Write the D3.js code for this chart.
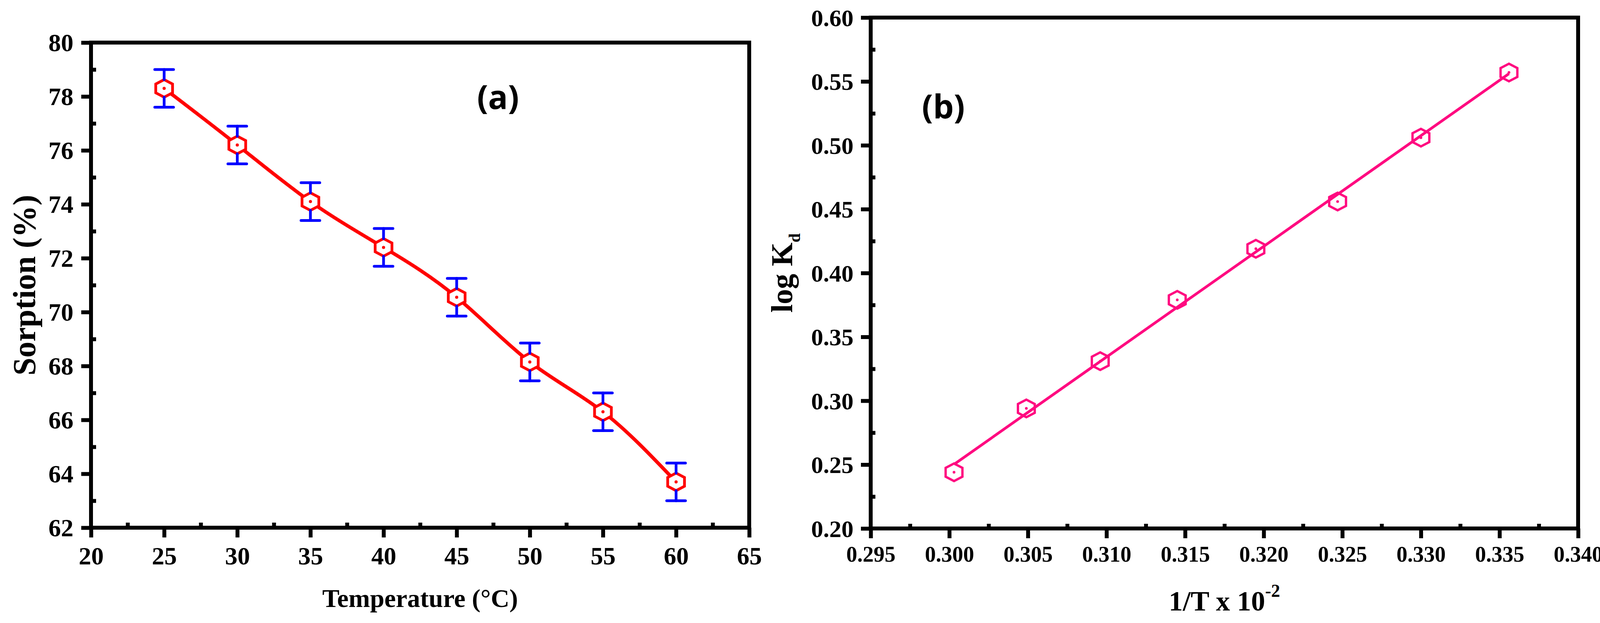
<!DOCTYPE html>
<html><head><meta charset="utf-8">
<script src="https://cdn.jsdelivr.net/npm/d3@7/dist/d3.min.js"></script>
<style>
body{margin:0;background:#fff}
svg{display:block;background:#fff}
text{font-family:"Liberation Serif","Times New Roman",serif;font-weight:bold;fill:#000}
</style>
</head><body>
<svg id="chart" width="4122" height="1595"></svg>
<script>
// ---------- data: panel (a) ----------
const temperature = [25, 30, 35, 40, 45, 50, 55, 60];
const sorption    = [78.3, 76.2, 74.1, 72.4, 70.55, 68.15, 66.3, 63.7];
const sorptionErr = [0.7, 0.7, 0.7, 0.7, 0.7, 0.7, 0.7, 0.7];
const tempTicks   = [20, 25, 30, 35, 40, 45, 50, 55, 60, 65];
const tempMinor   = [22.5, 27.5, 32.5, 37.5, 42.5, 47.5, 52.5, 57.5, 62.5];
const sorpTicks   = [62, 64, 66, 68, 70, 72, 74, 76, 78, 80];
const sorpMinor   = [63, 65, 67, 69, 71, 73, 75, 77, 79];

// ---------- data: panel (b) ----------
const invT  = [0.3003, 0.3049, 0.3096, 0.3145, 0.3195, 0.3247, 0.3300, 0.3356];
const logKd = [0.244, 0.294, 0.331, 0.379, 0.419, 0.456, 0.506, 0.557];
const invTTicks  = [0.295, 0.300, 0.305, 0.310, 0.315, 0.320, 0.325, 0.330, 0.335, 0.340];
const invTMinor  = [0.2975, 0.3025, 0.3075, 0.3125, 0.3175, 0.3225, 0.3275, 0.3325, 0.3375];
const logKdTicks = [0.20, 0.25, 0.30, 0.35, 0.40, 0.45, 0.50, 0.55, 0.60];
const logKdMinor = [0.225, 0.275, 0.325, 0.375, 0.425, 0.475, 0.525, 0.575];

const svg = d3.select('#chart');

// ---------- layout ----------
const A = {x0: 233, x1: 1918, y0: 1351, y1: 109};
const B = {x0: 2229, x1: 4040, y0: 1353, y1: 45};

const xA = d3.scaleLinear().domain([20, 65]).range([A.x0, A.x1]);
const yA = d3.scaleLinear().domain([62, 80]).range([A.y0, A.y1]);
const xB = d3.scaleLinear().domain([0.295, 0.340]).range([B.x0, B.x1]);
const yB = d3.scaleLinear().domain([0.20, 0.60]).range([B.y0, B.y1]);

function frame(P, xs, ys, opt) {
  const g = svg.append('g');
  // bottom axis (major, outward)
  const gx = g.append('g').attr('transform', `translate(0,${P.y0})`)
    .call(d3.axisBottom(xs).tickValues(opt.xTicks).tickSizeInner(opt.majorLen).tickSizeOuter(0)
      .tickFormat(opt.xFmt));
  gx.select('.domain').remove();
  gx.selectAll('.tick line').attr('stroke', '#000').attr('stroke-width', 10);
  gx.selectAll('.tick text').attr('y', opt.xLabelY).attr('dy', null)
    .style('font-size', opt.xFont + 'px');
  // bottom minor (inward)
  const gxm = g.append('g').attr('transform', `translate(0,${P.y0})`)
    .call(d3.axisBottom(xs).tickValues(opt.xMinor).tickSizeInner(-opt.minorLen).tickSizeOuter(0).tickFormat(''));
  gxm.select('.domain').remove();
  gxm.selectAll('.tick line').attr('stroke', '#000').attr('stroke-width', 10);
  // left axis (major)
  const gy = g.append('g').attr('transform', `translate(${P.x0},0)`)
    .call(d3.axisLeft(ys).tickValues(opt.yTicks).tickSizeInner(opt.majorLen).tickSizeOuter(0)
      .tickFormat(opt.yFmt));
  gy.select('.domain').remove();
  gy.selectAll('.tick line').attr('stroke', '#000').attr('stroke-width', 10);
  gy.selectAll('.tick text').attr('x', -opt.yLabelGap).attr('dy', '0.34em')
    .style('font-size', opt.yFont + 'px');
  const gym = g.append('g').attr('transform', `translate(${P.x0},0)`)
    .call(d3.axisLeft(ys).tickValues(opt.yMinor).tickSizeInner(-opt.minorLen).tickSizeOuter(0).tickFormat(''));
  gym.select('.domain').remove();
  gym.selectAll('.tick line').attr('stroke', '#000').attr('stroke-width', 10);
  // box
  g.append('rect').attr('x', P.x0).attr('y', P.y1).attr('width', P.x1 - P.x0).attr('height', P.y0 - P.y1)
    .attr('fill', 'none').attr('stroke', '#000').attr('stroke-width', 10);
  return g;
}

frame(A, xA, yA, {
  xTicks: tempTicks, xMinor: tempMinor, yTicks: sorpTicks, yMinor: sorpMinor,
  xFmt: d3.format('d'), yFmt: d3.format('d'), majorLen: 25, minorLen: 13,
  xLabelY: 94, xFont: 64, yLabelGap: 45, yFont: 64
});
frame(B, xB, yB, {
  xTicks: invTTicks, xMinor: invTMinor, yTicks: logKdTicks, yMinor: logKdMinor,
  xFmt: d3.format('.3f'), yFmt: d3.format('.2f'), majorLen: 25, minorLen: 12,
  xLabelY: 85, xFont: 56, yLabelGap: 44, yFont: 62
});

// ---------- axis titles ----------
svg.append('text').attr('x', (A.x0 + A.x1) / 2).attr('y', 1554).attr('text-anchor', 'middle')
  .style('font-size', '66px').text('Temperature (°C)');
svg.append('text').attr('transform', `translate(90,${(A.y0 + A.y1) / 2}) rotate(-90)`)
  .attr('text-anchor', 'middle').style('font-size', '82px').text('Sorption (%)');

const tB = svg.append('text').attr('x', (B.x0 + B.x1) / 2).attr('y', 1563).attr('text-anchor', 'middle')
  .style('font-size', '72px');
tB.append('tspan').text('1/T x 10');
tB.append('tspan').attr('dy', -35).style('font-size', '46px').text('-2');

const tL = svg.append('text').attr('transform', `translate(2028,${(B.y0 + B.y1) / 2}) rotate(-90)`)
  .attr('text-anchor', 'middle').style('font-size', '78px');
tL.append('tspan').text('log K');
tL.append('tspan').attr('dy', 20).style('font-size', '42px').text('d');

// panel labels
svg.append('text').attr('x', 1275).attr('y', 279).attr('text-anchor', 'middle')
  .style('font-family', '"Open Sans", "Noto Sans", sans-serif').style('font-size', '84px').text('(a)');
svg.append('text').attr('x', 2415).attr('y', 303).attr('text-anchor', 'middle')
  .style('font-family', '"Open Sans", "Noto Sans", sans-serif').style('font-size', '84px').text('(b)');

// ---------- markers ----------
const HR = 22.5, HW = 21.5;
const hexPath = d3.line()([[0, -HR], [HW, -HR / 2], [HW, HR / 2], [0, HR], [-HW, HR / 2], [-HW, -HR / 2]]) + 'Z';

// ---------- panel (a) series ----------
const ptsA = temperature.map((t, i) => ({x: t, y: sorption[i], e: sorptionErr[i]}));
svg.append('path').datum(ptsA)
  .attr('d', d3.line().x(d => xA(d.x)).y(d => yA(d.y)).curve(d3.curveNatural))
  .attr('fill', 'none').attr('stroke', '#ff0000').attr('stroke-width', 9).attr('stroke-linejoin', 'round');

const mA = svg.append('g').selectAll('g').data(ptsA).join('g')
  .attr('transform', d => `translate(${xA(d.x)},${yA(d.y)})`);
mA.append('path').attr('d', hexPath).attr('fill', '#fff').attr('stroke', '#ff0000').attr('stroke-width', 7);
mA.append('circle').attr('r', 4).attr('fill', '#ff0000');

const eb = svg.append('g').attr('stroke', '#0000ff').attr('stroke-width', 7).attr('stroke-linecap', 'round');
ptsA.forEach(d => {
  const cx = xA(d.x), cy = yA(d.y), top = yA(d.y + d.e), bot = yA(d.y - d.e);
  eb.append('line').attr('x1', cx).attr('x2', cx).attr('y1', top).attr('y2', cy - HR);
  eb.append('line').attr('x1', cx).attr('x2', cx).attr('y1', cy + HR).attr('y2', bot);
  eb.append('line').attr('x1', cx - 24).attr('x2', cx + 24).attr('y1', top).attr('y2', top);
  eb.append('line').attr('x1', cx - 24).attr('x2', cx + 24).attr('y1', bot).attr('y2', bot);
});

// ---------- panel (b) series ----------
const pink = '#ff0a80';
const ptsB = invT.map((v, i) => ({x: v, y: logKd[i]}));
const mB = svg.append('g').selectAll('g').data(ptsB).join('g')
  .attr('transform', d => `translate(${xB(d.x)},${yB(d.y)})`);
mB.append('path').attr('d', hexPath).attr('fill', 'none').attr('stroke', pink).attr('stroke-width', 6);
mB.append('circle').attr('r', 3.5).attr('fill', pink);

// linear fit
const mx = d3.mean(invT), my = d3.mean(logKd);
const slope = d3.sum(invT.map((v, i) => (v - mx) * (logKd[i] - my))) / d3.sum(invT.map(v => (v - mx) ** 2));
const icpt = my - slope * mx;
const fitX = d3.extent(invT);
svg.append('path').datum(fitX.map(v => ({x: v, y: icpt + slope * v})))
  .attr('d', d3.line().x(d => xB(d.x)).y(d => yB(d.y)))
  .attr('fill', 'none').attr('stroke', pink).attr('stroke-width', 7);
</script>
</body></html>
